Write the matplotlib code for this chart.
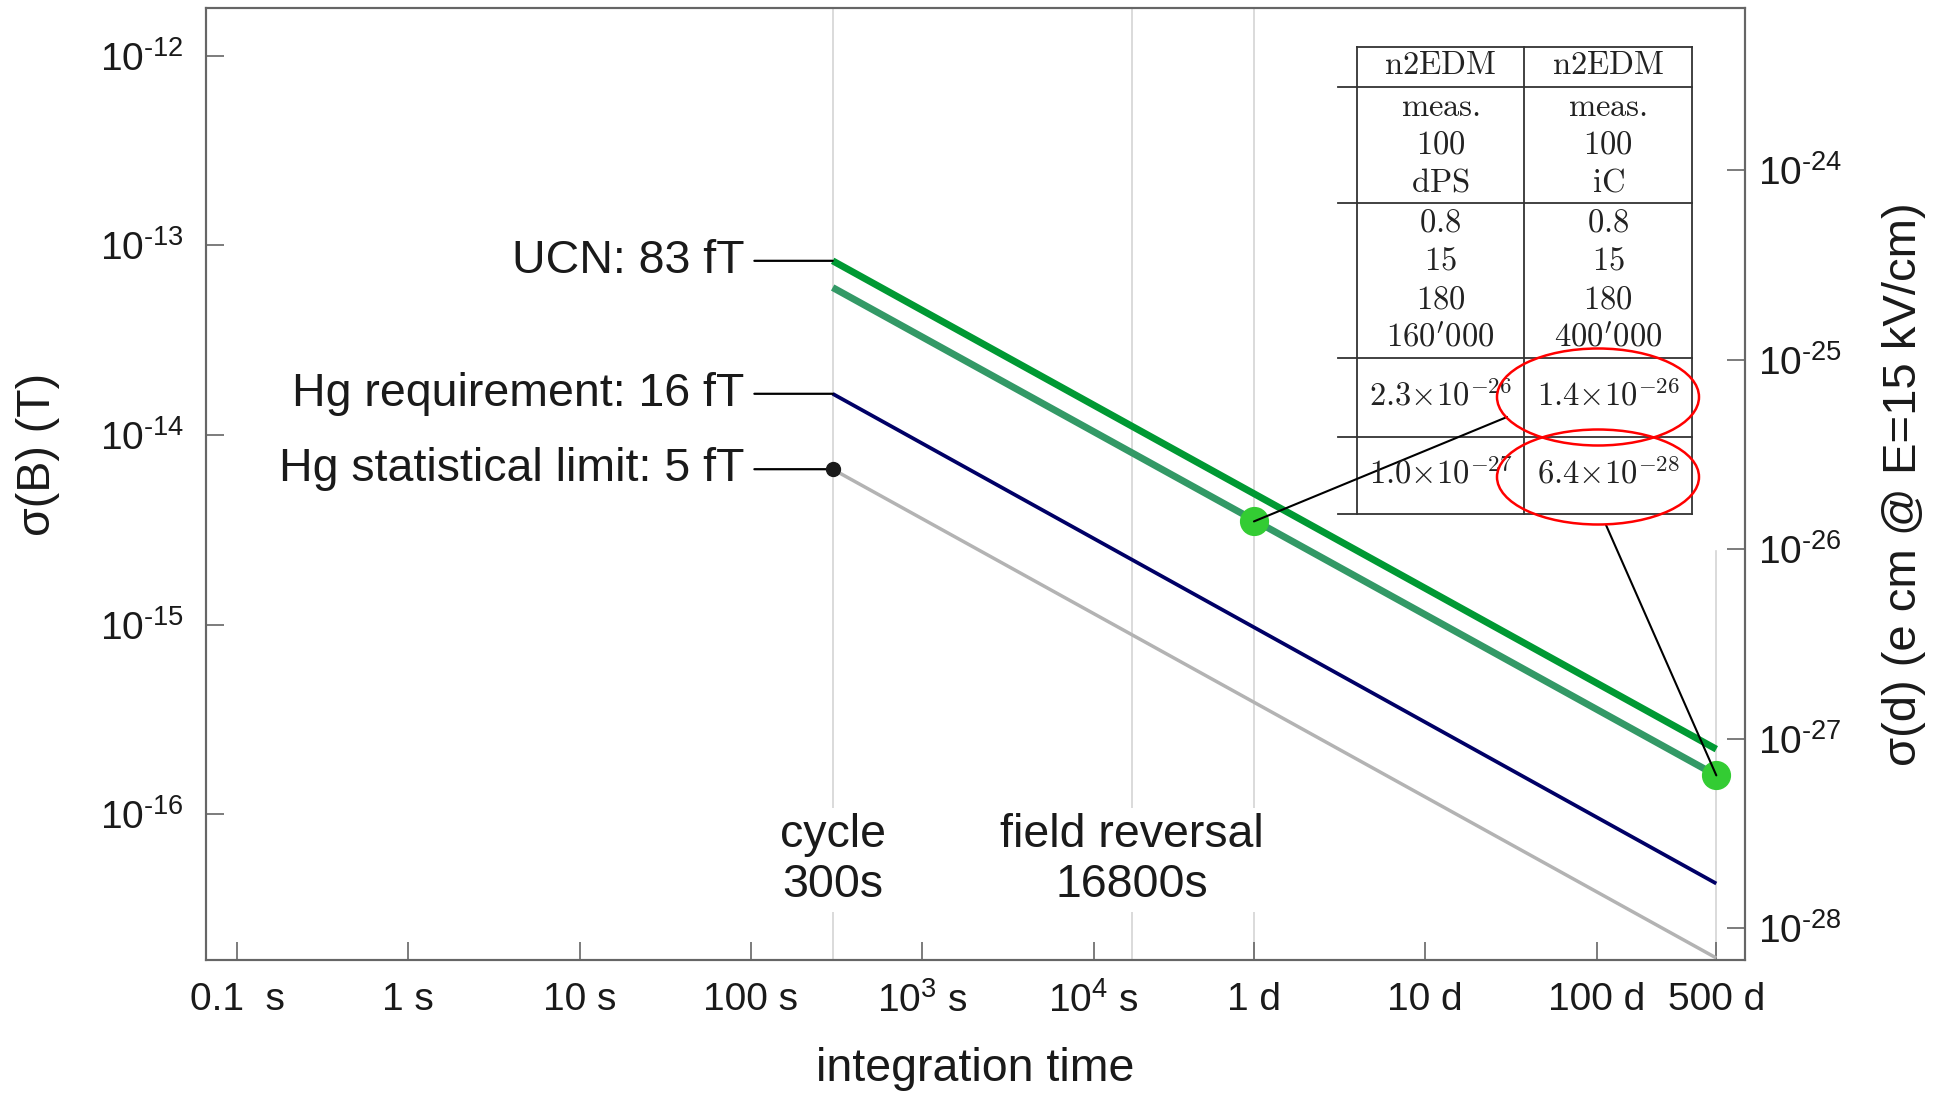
import matplotlib
matplotlib.use("Agg")
import matplotlib.pyplot as plt
from matplotlib.patches import Ellipse

# ---------------- data ----------------
t_ends = [300.0, 500 * 86400.0]          # s : cycle -> 500 d
ucn = [8.3e-14, 2.2e-16]                 # T
ucn_meas = [6.0e-14, 1.6e-16]            # T
hg_req = [1.65e-14, 4.3e-17]             # T
hg_stat = [6.6e-15, 1.74e-17]            # T
dot_t = [86400.0, 500 * 86400.0]
dot_B = [3.5e-15, 1.6e-16]
K_d = 4.0e-12                            # e cm per T  (E = 15 kV/cm)
marker_times = [300.0, 16800.0, 86400.0]
end_time = 500 * 86400.0

HY = "\u2010"
xticks = [0.1, 1, 10, 100, 1e3, 1e4, 86400, 864000, 8640000, 43200000]
xticklabels = ["0.1  s", "1 s", "10 s", "100 s", "10$^3$ s", "10$^4$ s",
               "1 d", "10 d", "100 d", "500 d"]
yticks_B = [1e-12, 1e-13, 1e-14, 1e-15, 1e-16]
yticklabels_B = ["10$^{" + HY + "12}$", "10$^{" + HY + "13}$", "10$^{" + HY + "14}$",
                 "10$^{" + HY + "15}$", "10$^{" + HY + "16}$"]
yticks_d = [1e-24, 1e-25, 1e-26, 1e-27, 1e-28]
yticklabels_d = ["10$^{" + HY + "24}$", "10$^{" + HY + "25}$", "10$^{" + HY + "26}$",
                 "10$^{" + HY + "27}$", "10$^{" + HY + "28}$"]

line_labels = ["UCN: 83 fT", "Hg requirement: 16 fT", "Hg statistical limit: 5 fT"]
line_label_vals = [ucn[0], hg_req[0], hg_stat[0]]

table_header = ["n2EDM", "n2EDM"]
table_block1 = [["meas.", "100", "dPS"], ["meas.", "100", "iC"]]
table_block2 = [["0.8", "15", "180", r"160^{\prime}000"], ["0.8", "15", "180", r"400^{\prime}000"]]
table_row3 = [r"2.3{\times}10^{-26}", r"1.4{\times}10^{-26}"]
table_row4 = [r"1.0{\times}10^{-27}", r"6.4{\times}10^{-28}"]

# ---------------- style ----------------
plt.rcParams['font.family'] = ['Liberation Sans', 'DejaVu Sans']
plt.rcParams['mathtext.default'] = 'regular'
TXT = '#1a1a1a'
SP = '#666666'

W, H = 1935, 1093
fig = plt.figure(figsize=(W / 100, H / 100), dpi=100)
L, R, T, B = 206, 1745, 8, 960
ax = fig.add_axes([L / W, 1 - B / H, (R - L) / W, (B - T) / H])

xlim = (10 ** -1.181, 10 ** 7.803)
ylim = (10 ** -16.770, 10 ** -11.747)
ax.set_xscale('log')
ax.set_yscale('log')
ax.set_xlim(*xlim)
ax.set_ylim(*ylim)

# guide lines
for tm in marker_times:
    ax.axvline(tm, color='#d4d4d4', lw=1.2, zorder=0.5)
ax.axvline(end_time, ymax=0.43, color='#d4d4d4', lw=1.2, zorder=0.5)

# data lines
ax.plot(t_ends, ucn, color='#009933', lw=5.0, solid_capstyle='butt', zorder=3)
ax.plot(t_ends, ucn_meas, color='#339966', lw=5.0, solid_capstyle='butt', zorder=3)
ax.plot(t_ends, hg_req, color='#000066', lw=2.7, solid_capstyle='butt', zorder=3)
ax.plot(t_ends, hg_stat, color='#b3b3b3', lw=2.5, solid_capstyle='butt', zorder=3)
ax.plot([t_ends[0]], [hg_stat[0]], 'o', color='#1a1a1a', ms=10, zorder=5)
ax.plot(dot_t, dot_B, 'o', color='#33cc33', ms=20, zorder=5, ls='none')

# labels with leaders
for lab, v in zip(line_labels, line_label_vals):
    ax.annotate(lab, xy=(t_ends[0], v), xytext=(-88, 0), textcoords='offset pixels',
                ha='right', va='center', fontsize=33.5, color=TXT,
                arrowprops=dict(arrowstyle='-', color='black', lw=1.6,
                                shrinkA=5, shrinkB=0), zorder=4)

# cycle / field reversal texts
tr = ax.get_xaxis_transform()
ax.text(300, 0.105, "cycle\n300s", transform=tr, ha='center', va='center',
        multialignment='center', fontsize=33.5, color=TXT, zorder=4,
        bbox=dict(facecolor='white', edgecolor='none', pad=3))
ax.text(16800, 0.105, "field reversal\n16800s", transform=tr, ha='center', va='center',
        multialignment='center', fontsize=33.5, color=TXT, zorder=4,
        bbox=dict(facecolor='white', edgecolor='none', pad=3))

# axes styling
for s in ax.spines.values():
    s.set_color(SP)
    s.set_linewidth(1.5)
ax.set_xticks(xticks)
ax.set_xticklabels(xticklabels)
ax.set_yticks(yticks_B)
ax.set_yticklabels(yticklabels_B)
ax.minorticks_off()
ax.tick_params(axis='both', which='major', direction='in', length=13, width=1.2,
               color=SP, labelcolor=TXT, labelsize=28, pad=16)
ax.tick_params(axis='x', top=False)
ax.tick_params(axis='y', right=False)

ax.set_xlabel("integration time", fontsize=33.5, color=TXT)
ax.xaxis.set_label_coords(0.5, -0.115)
ax.xaxis.label.set_verticalalignment('center')
ax.set_ylabel("σ(B) (T)", fontsize=33.5, color=TXT)
ax.yaxis.set_label_coords(-0.109, 0.531)
ax.yaxis.label.set_verticalalignment('center')

ax2 = ax.twinx()
ax2.set_yscale('log')
ax2.set_ylim(ylim[0] * K_d, ylim[1] * K_d)
ax2.set_yticks(yticks_d)
ax2.set_yticklabels(yticklabels_d)
ax2.minorticks_off()
ax2.tick_params(axis='y', which='major', direction='in', length=13, width=1.2,
                color=SP, labelcolor=TXT, labelsize=28, pad=9)
for s in ax2.spines.values():
    s.set_color(SP)
    s.set_linewidth(1.5)
ax2.set_ylabel("σ(d) (e cm @ E=15 kV/cm)", fontsize=34, color=TXT)
ax2.yaxis.set_label_coords(1.103, 0.5)
ax2.yaxis.label.set_verticalalignment('center')

# ---------------- inset table (pixel layout -> axes fraction) ----------------
def fx(px):
    return (px - L) / (R - L)

def fy(py):
    return (B - py) / (B - T)

TL = '#333333'
x_left, x_c0, x_c1, x_c2 = 1338, 1357, 1524, 1692
rows_y = [47, 87, 203, 358, 437, 514]
kw = dict(transform=ax.transAxes, color=TL, lw=1.3, clip_on=False, zorder=6)
ax.plot([fx(x_c0), fx(x_c2)], [fy(rows_y[0])] * 2, **kw)
for yy in rows_y[1:]:
    ax.plot([fx(x_left), fx(x_c2)], [fy(yy)] * 2, **kw)
for xx in (x_c0, x_c1, x_c2):
    ax.plot([fx(xx)] * 2, [fy(rows_y[0]), fy(rows_y[-1])], **kw)

cx = [(x_c0 + x_c1) / 2, (x_c1 + x_c2) / 2]
tkw = dict(transform=ax.transAxes, ha='center', va='center', fontsize=23.5,
           color='#222222', math_fontfamily='cm', zorder=7)

def cm(s):
    return "$\\mathrm{" + s + "}$"

for j in range(2):
    ax.text(fx(cx[j]), fy(66), cm(table_header[j]), **tkw)
    for k, s in enumerate(table_block1[j]):
        ax.text(fx(cx[j]), fy(107 + 38 * k), cm(s), **tkw)
    for k, s in enumerate(table_block2[j]):
        ax.text(fx(cx[j]), fy(223 + 38.5 * k), cm(s), **tkw)
    ax.text(fx(cx[j]), fy(396), cm(table_row3[j]), **tkw)
    ax.text(fx(cx[j]), fy(474), cm(table_row4[j]), **tkw)

for ecy, eh in ((397, 97), (477, 95)):
    ax.add_patch(Ellipse((fx(1598), fy(ecy)), width=202 / (R - L), height=eh / (B - T),
                         transform=ax.transAxes, facecolor='none', edgecolor='red',
                         lw=1.8, clip_on=False, zorder=8))

# connectors from the dots to the highlighted entries
ax.annotate("", xy=(dot_t[0], dot_B[0]), xycoords='data',
            xytext=(fx(1507), fy(417)), textcoords='axes fraction',
            arrowprops=dict(arrowstyle='-', color='black', lw=1.5, shrinkA=0, shrinkB=0),
            zorder=6)
ax.annotate("", xy=(dot_t[1], dot_B[1]), xycoords='data',
            xytext=(fx(1606), fy(525)), textcoords='axes fraction',
            arrowprops=dict(arrowstyle='-', color='black', lw=1.5, shrinkA=0, shrinkB=0),
            zorder=6)

fig.savefig("out.png", dpi=100)
